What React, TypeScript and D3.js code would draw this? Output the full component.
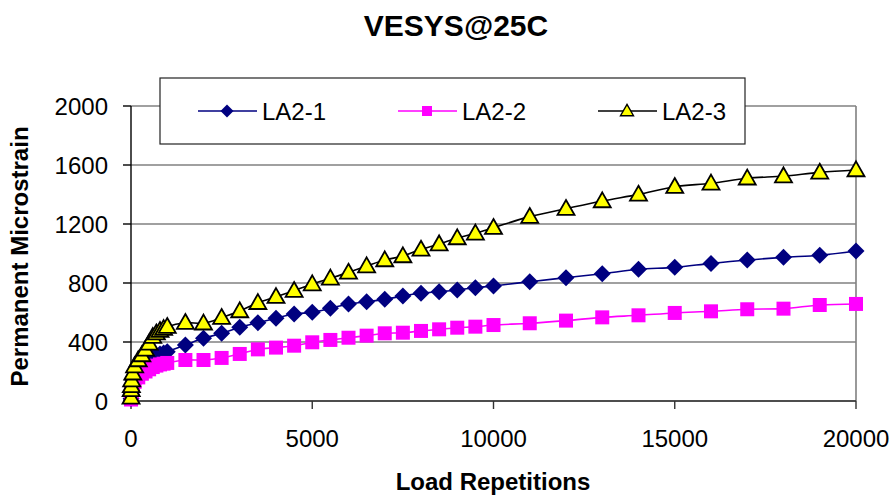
import React from "react";
import * as d3 from "d3";

const cycles = [1, 5, 10, 20, 50, 100, 200, 300, 400, 500, 600, 700, 800, 900, 1000,
  1500, 2000, 2500, 3000, 3500, 4000, 4500, 5000, 5500, 6000, 6500, 7000, 7500, 8000, 8500, 9000, 9500, 10000,
  11000, 12000, 13000, 14000, 15000, 16000, 17000, 18000, 19000, 20000];

const la21 = [15, 45, 70, 100, 140, 175, 210, 240, 260, 280, 295, 308, 318, 326, 334,
  380, 425, 459, 500, 531, 561, 590, 601, 628, 658, 673, 689, 712, 730, 741, 753, 768, 780,
  809, 836, 863, 893, 906, 933, 956, 974, 988, 1017];

const la22 = [10, 30, 50, 70, 100, 130, 160, 185, 200, 215, 230, 240, 248, 253, 258,
  278, 278, 292, 319, 350, 362, 375, 398, 414, 429, 443, 459, 463, 475, 486, 497, 504, 515,
  527, 545, 567, 581, 597, 608, 622, 626, 651, 658];

const la23 = [25, 75, 102, 142, 188, 237, 278, 312, 350, 391, 436, 460, 477, 490, 504,
  531, 527, 565, 610, 666, 707, 748, 793, 832, 872, 915, 956, 983, 1028, 1064, 1105, 1137, 1175,
  1250, 1304, 1356, 1401, 1453, 1476, 1510, 1525, 1550, 1566];

const seriesNames = ["LA2-1", "LA2-2", "LA2-3"];
const xTicks = [0, 5000, 10000, 15000, 20000];
const yTicks = [0, 400, 800, 1200, 1600, 2000];

const title = "VESYS@25C";
const xTitle = "Load Repetitions";
const yTitle = "Permanent Microstrain";

const FONT = "'Liberation Sans', Arial, sans-serif";

type Kind = "diamond" | "square" | "triangle";

function markerPath(kind: Kind, s: number) {
  if (kind === "diamond") return `M0,${-s} L${s},0 L0,${s} L${-s},0 Z`;
  if (kind === "square") return `M${-s},${-s} H${s} V${s} H${-s} Z`;
  const h = s * 1.75;
  return `M0,${-h * 0.58} L${s},${h * 0.42} L${-s},${h * 0.42} Z`;
}

export default function App() {
  const W = 895, H = 497;
  const left = 131, right = 856, top = 106, bottom = 401;
  const x = d3.scaleLinear().domain([0, 20000]).range([left, right]);
  const y = d3.scaleLinear().domain([0, 2000]).range([bottom, top]);

  const series = [
    { name: seriesNames[0], values: la21, color: "#000080", kind: "diamond" as Kind, fill: "#000080", stroke: "none", size: 8.5 },
    { name: seriesNames[1], values: la22, color: "#FF00FF", kind: "square" as Kind, fill: "#FF00FF", stroke: "none", size: 7 },
    { name: seriesNames[2], values: la23, color: "#000000", kind: "triangle" as Kind, fill: "#FFFF00", stroke: "#000000", size: 8.5 },
  ];

  const line = d3.line<[number, number]>()
    .x(d => x(d[0]))
    .y(d => y(d[1]))
    .curve(d3.curveCatmullRom.alpha(0.5));

  const legendX = [198, 398, 598];
  const legendY = 111;

  return (
    <svg width={W} height={H} style={{ position: "absolute", left: 0, top: 0, background: "#fff" }} fontFamily={FONT}>
      <rect x={0} y={0} width={W} height={H} fill="#fff" />
      {/* title */}
      <text x={456} y={36} textAnchor="middle" fontWeight="bold" fontSize={30}>{title}</text>

      {/* gridlines */}
      {yTicks.map(t => (
        <line key={"g" + t} x1={left} x2={right} y1={y(t)} y2={y(t)} stroke="#808080" strokeWidth={1.6} />
      ))}
      {/* right border */}
      <line x1={right} x2={right} y1={top} y2={bottom} stroke="#808080" strokeWidth={1.6} />

      {/* axes */}
      <line x1={left} x2={left} y1={top} y2={bottom} stroke="#000" strokeWidth={1.4} />
      <line x1={left} x2={right} y1={bottom} y2={bottom} stroke="#333" strokeWidth={1.6} />
      {yTicks.map(t => (
        <g key={"yt" + t}>
          <line x1={left - 8} x2={left} y1={y(t)} y2={y(t)} stroke="#000" strokeWidth={1.4} />
          <text x={108} y={y(t)} dy="0.36em" textAnchor="end" fontSize={24}>{t}</text>
        </g>
      ))}
      {xTicks.map(t => (
        <g key={"xt" + t}>
          <line x1={x(t)} x2={x(t)} y1={bottom} y2={bottom + 8} stroke="#333" strokeWidth={1.4} />
          <text x={x(t)} y={447} textAnchor="middle" fontSize={24}>{t}</text>
        </g>
      ))}

      {/* axis titles */}
      <text x={493} y={490} textAnchor="middle" fontWeight="bold" fontSize={24}>{xTitle}</text>
      <text transform={`translate(28,${(top + bottom) / 2 + 3}) rotate(-90)`} textAnchor="middle" fontWeight="bold" fontSize={24}>{yTitle}</text>

      {/* series */}
      {series.map(s => {
        const pts: [number, number][] = cycles.map((c, i) => [c, s.values[i]]);
        return (
          <g key={s.name}>
            <path d={line(pts) || ""} fill="none" stroke={s.color} strokeWidth={1.6} />
            {pts.map((p, i) => (
              <path key={i} d={markerPath(s.kind, s.size)} transform={`translate(${x(p[0])},${y(p[1])})`}
                fill={s.fill} stroke={s.stroke} strokeWidth={1.8} strokeLinejoin="miter" />
            ))}
          </g>
        );
      })}

      {/* legend */}
      <rect x={160} y={78} width={585} height={66} fill="#fff" stroke="#222" strokeWidth={1.2} />
      {series.map((s, i) => (
        <g key={"lg" + s.name}>
          <line x1={legendX[i]} x2={legendX[i] + 59} y1={legendY} y2={legendY} stroke={s.color} strokeWidth={1.6} />
          <path d={markerPath(s.kind, s.kind === "square" ? 5 : 6.5)} transform={`translate(${legendX[i] + 29},${legendY})`}
            fill={s.fill} stroke={s.stroke} strokeWidth={1.4} />
          <text x={legendX[i] + 64} y={legendY} dy="0.36em" fontSize={24}>{s.name}</text>
        </g>
      ))}
    </svg>
  );
}
